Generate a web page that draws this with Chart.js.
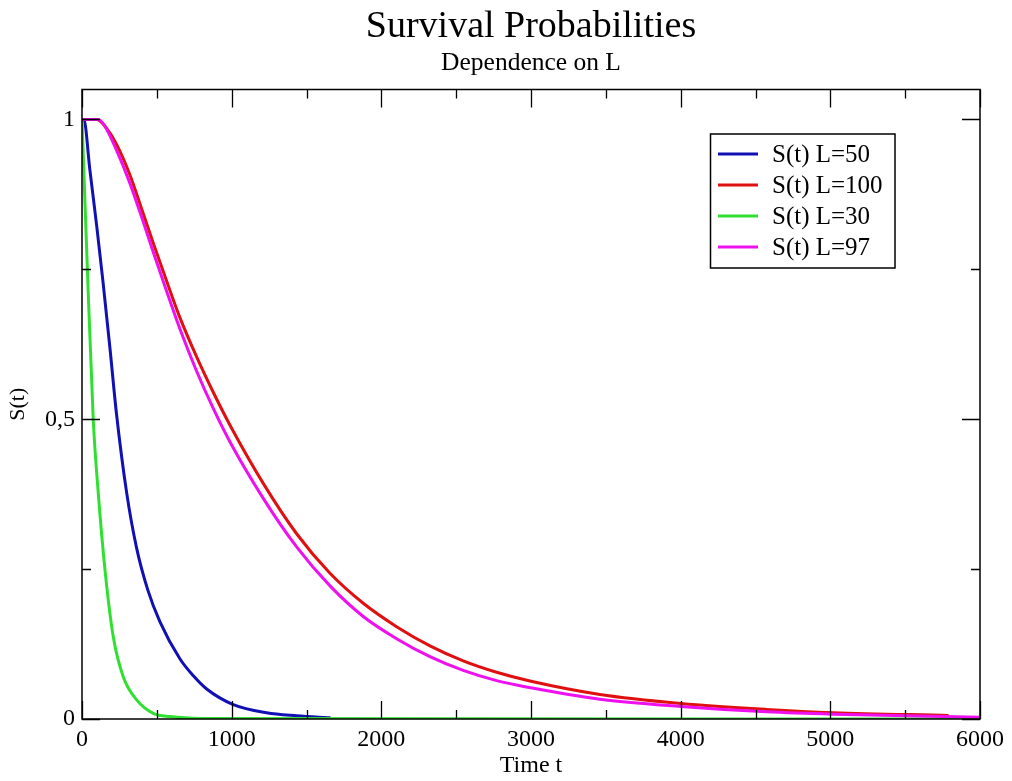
<!DOCTYPE html>
<html>
<head>
<meta charset="utf-8">
<script src="https://cdn.jsdelivr.net/npm/chart.js@4/dist/chart.umd.min.js"></script>
<style>
html,body{margin:0;padding:0;background:#fff;}
#wrap{width:1012px;height:781px;position:relative;}
</style>
</head>
<body>
<div id="wrap"><canvas id="c" width="1012" height="781"></canvas></div>
<script>
// ---- data ----
const titleText = 'Survival Probabilities';
const subtitleText = 'Dependence on L';
const xAxisTitle = 'Time t';
const yAxisTitle = 'S(t)';
const seriesLabels = ['S(t) L=50', 'S(t) L=100', 'S(t) L=30', 'S(t) L=97'];
const seriesColors = ['#1010b4', '#e01010', '#30e030', '#ee10ee'];

const tL50 = [0, 12, 53, 98, 140, 187, 230, 298, 365, 440, 521, 655, 744, 833, 1011, 1233, 1434, 1660];
const sL50 = [1, 1, 0.915, 0.823, 0.73, 0.618, 0.51, 0.378, 0.285, 0.215, 0.162, 0.1, 0.072, 0.05, 0.024, 0.0105, 0.0055, 0.002];

const tL100 = [0, 100, 165, 232, 321, 400, 477, 566, 655, 766, 877, 989, 1211, 1434, 1657, 1879, 2102, 2325, 2547, 2770, 3000, 3460, 4000, 4574, 5019, 5790];
const sL100 = [1, 1, 0.985, 0.958, 0.907, 0.85, 0.793, 0.73, 0.669, 0.604, 0.545, 0.49, 0.393, 0.309, 0.243, 0.193, 0.154, 0.122, 0.097, 0.078, 0.063, 0.041, 0.026, 0.016, 0.0105, 0.006];

const tL30 = [0, 36, 75, 109, 154, 209, 276, 365, 476, 588, 800, 6000];
const sL30 = [1, 0.75, 0.5, 0.376, 0.248, 0.137, 0.07, 0.032, 0.0095, 0.004, 0.001, 0];

const tL97 = [0, 110, 150, 232, 321, 400, 477, 566, 655, 766, 877, 989, 1211, 1434, 1657, 1879, 2102, 2325, 2547, 2770, 3000, 3460, 4000, 4574, 5019, 6000];
const sL97 = [1, 1, 0.99, 0.948, 0.893, 0.836, 0.778, 0.713, 0.65, 0.58, 0.518, 0.462, 0.368, 0.287, 0.222, 0.171, 0.134, 0.104, 0.081, 0.064, 0.052, 0.033, 0.021, 0.012, 0.008, 0.003];

const xTicks = [0, 1000, 2000, 3000, 4000, 5000, 6000];
const yTicks = [0, 0.5, 1];
const xMinorStep = 500;
const yMinorStep = 0.25;

// ---- build datasets ----
const seriesT = [tL50, tL100, tL30, tL97];
const seriesS = [sL50, sL100, sL30, sL97];
const drawOrder = [4, 3, 2, 1];
const datasets = seriesLabels.map((lab, i) => ({
  label: lab,
  data: seriesT[i].map((t, k) => ({x: t, y: seriesS[i][k]})),
  borderColor: seriesColors[i],
  backgroundColor: seriesColors[i],
  borderWidth: 3,
  pointRadius: 0,
  fill: false,
  cubicInterpolationMode: 'monotone',
  order: drawOrder[i]
}));

const SERIF = '"Liberation Serif", "DejaVu Serif", serif';

const framePlugin = {
  id: 'frameAndLegend',
  afterDatasetsDraw(chart) {
    const ctx = chart.ctx;
    const a = chart.chartArea;
    const xs = chart.scales.x, ys = chart.scales.y;
    ctx.save();
    ctx.strokeStyle = '#000';
    ctx.lineWidth = 1.5;
    ctx.strokeRect(a.left, a.top, a.right - a.left, a.bottom - a.top);
    ctx.lineWidth = 1.3;
    // x ticks (inward, top and bottom)
    for (let v = xs.min; v <= xs.max + 1e-9; v += xMinorStep) {
      const px = Math.round(xs.getPixelForValue(v)) + 0.5;
      const major = xTicks.includes(v);
      const len = major ? 18 : 9;
      ctx.beginPath();
      ctx.moveTo(px, a.bottom); ctx.lineTo(px, a.bottom - len);
      ctx.moveTo(px, a.top); ctx.lineTo(px, a.top + len);
      ctx.stroke();
    }
    // y ticks (inward, left and right)
    for (let v = 0; v <= 1 + 1e-9; v += yMinorStep) {
      const py = Math.round(ys.getPixelForValue(v)) + 0.5;
      const major = yTicks.some(t => Math.abs(t - v) < 1e-9);
      const len = major ? 18 : 9;
      ctx.beginPath();
      ctx.moveTo(a.left, py); ctx.lineTo(a.left + len, py);
      ctx.moveTo(a.right, py); ctx.lineTo(a.right - len, py);
      ctx.stroke();
    }
    // legend
    const bx = 710.5, by = 134, bw = 184.5, bh = 134;
    ctx.fillStyle = '#fff';
    ctx.fillRect(bx, by, bw, bh);
    ctx.lineWidth = 1.5;
    ctx.strokeStyle = '#000';
    ctx.strokeRect(bx, by, bw, bh);
    const rows = [154, 185, 216, 247];
    ctx.font = '25px ' + SERIF;
    ctx.textBaseline = 'middle';
    ctx.textAlign = 'left';
    chart.data.datasets.forEach((ds, i) => {
      ctx.strokeStyle = ds.borderColor;
      ctx.lineWidth = 3;
      ctx.beginPath();
      ctx.moveTo(718, rows[i]); ctx.lineTo(758, rows[i]);
      ctx.stroke();
      ctx.fillStyle = '#000';
      ctx.fillText(ds.label, 772, rows[i] + 1);
    });
    ctx.restore();
  }
};

new Chart(document.getElementById('c'), {
  type: 'line',
  data: { datasets },
  plugins: [framePlugin],
  options: {
    responsive: false,
    animation: false,
    layout: { padding: { left: 0, right: 32, top: 0, bottom: 0 } },
    plugins: {
      legend: { display: false },
      tooltip: { enabled: false },
      title: {
        display: true, text: titleText, color: '#000', fullSize: false,
        font: { family: SERIF, size: 38, weight: 'normal', lineHeight: 1 },
        padding: { top: 8, bottom: 2 }
      },
      subtitle: {
        display: true, text: subtitleText, color: '#000', fullSize: false,
        font: { family: SERIF, size: 25.5, weight: 'normal', lineHeight: 1 },
        padding: { top: 3, bottom: 13 }
      }
    },
    scales: {
      x: {
        type: 'linear', min: 0, max: 6000,
        afterBuildTicks: s => { s.ticks = xTicks.map(v => ({value: v})); },
        afterFit: s => { s.height = 62; },
        grid: { display: false, drawTicks: false },
        border: { display: false },
        ticks: { color: '#000', font: { family: SERIF, size: 24 }, padding: 6, maxRotation: 0, autoSkip: false,
          callback: v => String(v) },
        title: { display: true, text: xAxisTitle, color: '#000', font: { family: SERIF, size: 24 }, padding: { top: 0, bottom: 1 } }
      },
      y: {
        type: 'linear', min: 0, max: 1.05,
        afterBuildTicks: s => { s.ticks = yTicks.map(v => ({value: v})); },
        afterFit: s => { s.width = 82; },
        grid: { display: false, drawTicks: false },
        border: { display: false },
        ticks: { color: '#000', font: { family: SERIF, size: 24 }, padding: 7,
          callback: v => String(v).replace('.', ',') },
        title: { display: true, text: yAxisTitle, color: '#000', font: { family: SERIF, size: 22 }, padding: { top: 5, bottom: 0 } }
      }
    }
  }
});
</script>
</body>
</html>
